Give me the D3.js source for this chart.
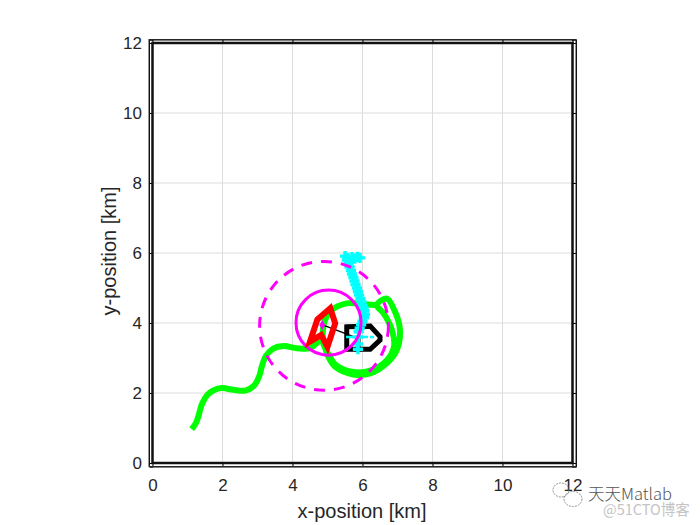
<!DOCTYPE html>
<html>
<head>
<meta charset="utf-8">
<script src="https://cdn.jsdelivr.net/npm/d3@7"></script>
<style>
  body { margin: 0; background: #fff; }
  text { font-family: "Liberation Sans", Arial, sans-serif; fill: #262626; }
</style>
</head>
<body>
<script>
var w = 700, h = 525;

// all values in km
var xTicks = [0, 2, 4, 6, 8, 10, 12],
    yTicks = [0, 2, 4, 6, 8, 10, 12];
var regionX = [0, 12, 12, 0],
    regionY = [0, 0, 12, 12];

var pathX = [1.12, 1.24, 1.33, 1.41, 1.57, 1.75, 1.98, 2.31, 2.65, 2.90, 3.05, 3.13, 3.24, 3.45, 3.74, 4.12, 4.50, 4.74, 4.84, 5.00, 5.22, 5.74, 6.22, 6.69, 6.98, 7.07, 6.93, 6.69, 6.41, 6.60, 6.84, 6.90, 6.69, 6.22, 5.74, 5.24, 5.02, 4.88, 4.87, 4.93, 5.12, 5.55, 6.12, 6.41],
    pathY = [0.97, 1.14, 1.40, 1.68, 1.95, 2.08, 2.14, 2.09, 2.07, 2.21, 2.48, 2.78, 3.06, 3.27, 3.34, 3.28, 3.28, 3.47, 3.51, 3.09, 2.75, 2.53, 2.56, 2.85, 3.23, 3.80, 4.32, 4.70, 4.51, 4.28, 3.80, 3.32, 2.93, 2.64, 2.60, 2.80, 3.12, 3.42, 3.80, 4.09, 4.37, 4.56, 4.53, 4.51];

var ownX = [5.55, 6.22, 6.50, 6.50, 6.22, 5.55],
    ownY = [3.89, 3.91, 3.61, 3.51, 3.25, 3.25];
var ownBarX = [5.90, 5.90],
    ownBarY = [3.89, 3.25];
var targetX = [5.08, 4.71, 4.50, 4.82, 5.00, 5.22],
    targetY = [4.42, 4.10, 3.47, 3.66, 3.32, 3.99];
var lineX = [4.88, 5.74],
    lineY = [3.94, 3.61];
var markX = [4.85],
    markY = [3.94];

// noisy track, one plus sign per point
var trackX = [5.93, 5.85, 5.78, 5.70, 5.58, 5.50, 5.55, 5.60, 5.63, 5.67, 5.70, 5.74, 5.77, 5.80, 5.84, 5.87, 5.90, 5.94, 5.97, 6.00, 6.03, 6.05, 6.07, 6.04, 6.00, 5.96, 5.92, 5.89, 5.88, 5.87, 5.87],
    trackY = [5.86, 5.89, 5.84, 5.88, 5.86, 5.91, 5.80, 5.70, 5.60, 5.50, 5.40, 5.30, 5.20, 5.10, 5.00, 4.90, 4.80, 4.70, 4.60, 4.50, 4.43, 4.35, 4.25, 4.15, 4.05, 3.95, 3.85, 3.75, 3.60, 3.40, 3.25];
var crossX = [5.53, 6.36],
    crossY = [3.60, 3.60];

// circles: center x, center y, radius
var innerCircle = [5.03, 4.01, 0.93],
    outerCircle = [4.90, 3.92, 1.84];

var svg = d3.select("body").append("svg")
  .attr("width", w)
  .attr("height", h);

var xScale = d3.scaleLinear().domain([-0.1, 12.1]).range([149, 576]);
var yScale = d3.scaleLinear().domain([-0.1, 12.1]).range([466.5, 39.5]);

var line = d3.line().x(d => xScale(d[0])).y(d => yScale(d[1]));
var smooth = d3.line().x(d => xScale(d[0])).y(d => yScale(d[1])).curve(d3.curveCatmullRom.alpha(0.5));
var zip = (a, b) => a.map((d, i) => [d, b[i]]);

// grid
svg.append("g").selectAll("line").data(xTicks).enter().append("line")
  .attr("x1", d => xScale(d)).attr("x2", d => xScale(d))
  .attr("y1", yScale.range()[0]).attr("y2", yScale.range()[1])
  .attr("stroke", "#dcdcdc");
svg.append("g").selectAll("line").data(yTicks).enter().append("line")
  .attr("y1", d => yScale(d)).attr("y2", d => yScale(d))
  .attr("x1", xScale.range()[0]).attr("x2", xScale.range()[1])
  .attr("stroke", "#dcdcdc");

// axes, ticks point inward on all four sides
var xAxis = d3.axisBottom(xScale).tickValues(xTicks).tickSize(-4).tickPadding(12);
var yAxis = d3.axisLeft(yScale).tickValues(yTicks).tickSize(-4).tickPadding(7);
svg.append("g").attr("transform", "translate(0,466.5)").call(xAxis)
  .call(g => g.selectAll("text").style("font-size", "17px"));
svg.append("g").attr("transform", "translate(149,0)").call(yAxis)
  .call(g => g.selectAll("text").style("font-size", "17px"));
svg.append("g").attr("transform", "translate(0,39.5)")
  .call(d3.axisTop(xScale).tickValues(xTicks).tickSize(-4).tickFormat(""));
svg.append("g").attr("transform", "translate(576,0)")
  .call(d3.axisRight(yScale).tickValues(yTicks).tickSize(-4).tickFormat(""));
svg.append("rect")
  .attr("x", 149).attr("y", 39.5).attr("width", 427).attr("height", 427)
  .attr("fill", "none").attr("stroke", "#262626");

// region border
svg.append("path")
  .attr("d", line(zip(regionX, regionY)) + "Z")
  .attr("fill", "none").attr("stroke", "#111").attr("stroke-width", 2.5);

// green path
svg.append("path")
  .attr("d", smooth(zip(pathX, pathY)))
  .attr("fill", "none").attr("stroke", "#00ff00").attr("stroke-width", 6)
  .attr("stroke-linejoin", "round");

// own ship
svg.append("path")
  .attr("d", line(zip(ownX, ownY)) + "Z")
  .attr("fill", "none").attr("stroke", "#000").attr("stroke-width", 5);
svg.append("path")
  .attr("d", line(zip(ownBarX, ownBarY)))
  .attr("fill", "none").attr("stroke", "#000").attr("stroke-width", 3);

// thin link
svg.append("path")
  .attr("d", line(zip(lineX, lineY)))
  .attr("fill", "none").attr("stroke", "#000").attr("stroke-width", 1.5);

// cyan track
svg.append("g").selectAll("path").data(zip(trackX, trackY)).enter().append("path")
  .attr("d", d3.symbol().type(d3.symbolCross).size(58))
  .attr("transform", d => `translate(${xScale(d[0])},${yScale(d[1])})`)
  .attr("fill", "#00ffff");
svg.append("path")
  .attr("d", line(zip(crossX, crossY)))
  .attr("fill", "none").attr("stroke", "#00ffff").attr("stroke-width", 2.5)
  .attr("stroke-dasharray", "22 2 4 2");

// circles
svg.append("circle")
  .attr("cx", xScale(outerCircle[0])).attr("cy", yScale(outerCircle[1]))
  .attr("r", xScale(outerCircle[2]) - xScale(0))
  .attr("fill", "none").attr("stroke", "#f0f").attr("stroke-width", 3)
  .attr("stroke-dasharray", "11 9");
svg.append("circle")
  .attr("cx", xScale(innerCircle[0])).attr("cy", yScale(innerCircle[1]))
  .attr("r", xScale(innerCircle[2]) - xScale(0))
  .attr("fill", "none").attr("stroke", "#f0f").attr("stroke-width", 3);

// target
svg.append("path")
  .attr("d", line(zip(targetX, targetY)) + "Z")
  .attr("fill", "none").attr("stroke", "#f00").attr("stroke-width", 6);
svg.append("g").selectAll("path").data(zip(markX, markY)).enter().append("path")
  .attr("d", d3.symbol().type(d3.symbolDiamond).size(30))
  .attr("transform", d => `translate(${xScale(d[0])},${yScale(d[1])})`)
  .attr("fill", "#f0f");

// labels
svg.append("text").attr("x", 362).attr("y", 518).attr("text-anchor", "middle")
  .style("font-size", "20px").text("x-position [km]");
svg.append("text").attr("transform", "translate(116,251) rotate(-90)").attr("text-anchor", "middle")
  .style("font-size", "20px").text("y-position [km]");

// watermark
var icon = svg.append("g").attr("fill", "none").attr("stroke", "#777").attr("stroke-width", 0.8).attr("stroke-dasharray", "2 1");
icon.append("ellipse").attr("cx", 561).attr("cy", 490).attr("rx", 8).attr("ry", 7);
icon.append("ellipse").attr("cx", 573).attr("cy", 499).attr("rx", 9).attr("ry", 7.5);
svg.append("text").attr("x", 588).attr("y", 500)
  .style("font-family", "'Noto Sans CJK SC'").style("font-size", "16.5px").style("font-weight", "300").style("fill", "#555").text("天天Matlab");
svg.append("text").attr("x", 603).attr("y", 515)
  .style("font-family", "'Noto Sans CJK SC'").style("font-size", "14.5px").style("fill", "#c4c4c4").text("@51CTO博客");
</script>
</body>
</html>
